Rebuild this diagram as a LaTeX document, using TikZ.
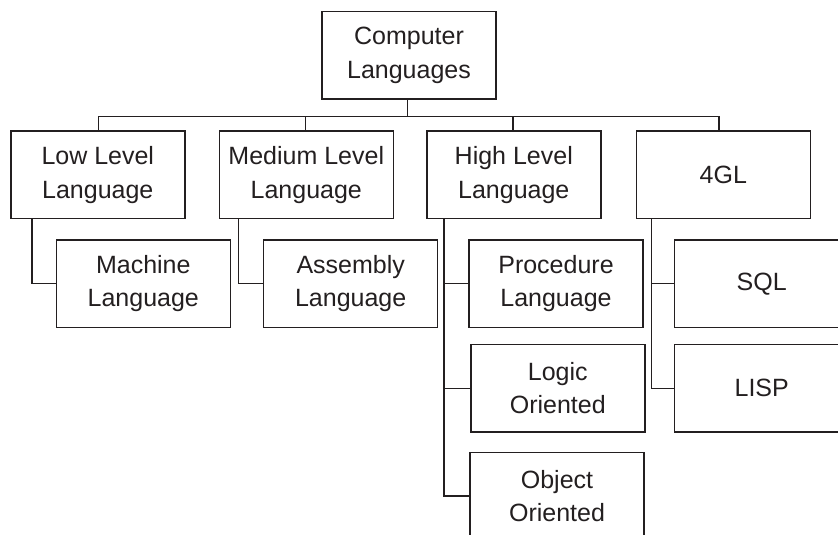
\documentclass[tikz,border=0pt]{standalone}
\usepackage{fontspec}
\setmainfont{Liberation Sans}
\definecolor{ink}{HTML}{231F20}
\begin{document}
\begin{tikzpicture}[x=1bp,y=-1bp,
  box/.style={draw=ink,line width=1.5bp,text=ink,minimum width=174bp,minimum height=87.5bp,
    inner sep=0pt,outer sep=0pt,align=center,font=\fontsize{25bp}{33.5bp}\selectfont},
  link/.style={draw=ink,line width=1.5bp}]
\useasboundingbox (0,0) rectangle (838,535);
\clip (0,0) rectangle (838,535);
% top levels
\node[box] (root) at (409,55.5) {Computer\\Languages};
\node[box] (low) at (97.8,175) {Low Level\\Language};
\node[box] (med) at (306.3,175) {Medium Level\\Language};
\node[box] (high) at (513.8,175) {High Level\\Language};
\node[box] (fgl) at (723.3,175) {4GL};
% children
\node[box] (mach) at (143.3,283.7) {Machine\\Language};
\node[box] (asm) at (350.7,283.7) {Assembly\\Language};
\node[box] (proc) at (556,283.7) {Procedure\\Language};
\node[box] (logic) at (557.8,388.3) {Logic\\Oriented};
\node[box] (obj) at (557,496) {Object\\Oriented};
\node[box] (sql) at (761.7,283.7) {SQL};
\node[box] (lisp) at (761.7,388.3) {LISP};
% bus
\coordinate (bus) at (0,116.3);
\draw[link] ([xshift=-1.7bp]root.south) -- ([xshift=-1.7bp]root.south |- bus);
\draw[link] ([xshift=0.9bp]low.north) |- ([xshift=-4.3bp]fgl.north |- bus) -- ([xshift=-4.3bp]fgl.north);
\draw[link] ([xshift=-1bp]med.north) -- ([xshift=-1bp]med.north |- bus);
\draw[link] ([xshift=-0.8bp]high.north) -- ([xshift=-0.8bp]high.north |- bus);
% child links
\draw[link] ([xshift=21bp]low.south west) |- (mach.west);
\draw[link] ([xshift=19.3bp]med.south west) |- (asm.west);
\draw[link] ([xshift=17bp]high.south west) |- (obj.west);
\draw[link] ([xshift=17bp]high.south west |- proc.west) -- (proc.west);
\draw[link] ([xshift=17bp]high.south west |- logic.west) -- (logic.west);
\draw[link] ([xshift=15bp]fgl.south west) |- (lisp.west);
\draw[link] ([xshift=15bp]fgl.south west |- sql.west) -- (sql.west);
\end{tikzpicture}
\end{document}
